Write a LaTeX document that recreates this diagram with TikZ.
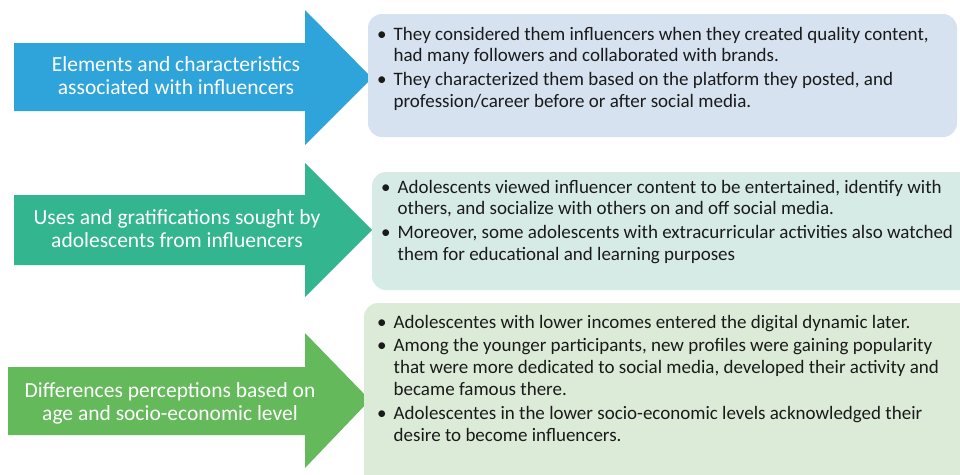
\documentclass[tikz,border=0pt]{standalone}
\usepackage{fontspec}
\setmainfont{Carlito}
\definecolor{arrA}{HTML}{2EA4DB}
\definecolor{arrB}{HTML}{33B68F}
\definecolor{arrC}{HTML}{64BA5A}
\definecolor{boxA}{HTML}{D6E2F0}
\definecolor{boxB}{HTML}{D7EBE6}
\definecolor{boxC}{HTML}{DCEBD8}
\definecolor{txt}{HTML}{1A1A1A}
\begin{document}
\begin{tikzpicture}[x=1pt,y=-1pt,
  arrowtxt/.style={anchor=north, inner sep=0pt, text=white, font=\fontsize{21.5}{23}\selectfont},
  boxtxt/.style={anchor=north west, inner sep=0pt, text=txt, font=\fontsize{19}{21.5}\selectfont},
  panel/.style={rounded corners=14pt},
]
\useasboundingbox (0,0) rectangle (960,474);
% arrows
\fill[arrA] (14,43) -- (305,43) -- (305,10) -- (372,78) -- (305,145) -- (305,111) -- (14,111) -- cycle;
\fill[arrB] (14,195) -- (305,195) -- (305,163) -- (372,230) -- (305,297) -- (305,265) -- (14,265) -- cycle;
\fill[arrC] (8,367) -- (305,367) -- (305,333) -- (370,400) -- (305,468) -- (305,435) -- (8,435) -- cycle;
% panels
\fill[boxA, panel] (368,14) rectangle (957,137);
\fill[boxB, panel] (372,172) rectangle (980,290);
\fill[boxC, panel] (364,303) rectangle (980,495);
% arrow texts
\node[arrowtxt] (a1) at (176,54.9) {\begin{tabular}{@{}c@{}}Elements and characteristics\\ associated with influencers\end{tabular}};
\node[arrowtxt] (a2) at (177,207.9) {\begin{tabular}{@{}c@{}}Uses and gratifications sought by\\ adolescents from influencers\end{tabular}};
\node[arrowtxt] (a3) at (170,380.9) {\begin{tabular}{@{}c@{}}Differences perceptions based on\\ age and socio-economic level\end{tabular}};
% panel texts
\node[boxtxt] (b1) at (377,25) {\begin{tabular}{@{}l@{\hspace{7pt}}l@{}}
\textbullet & They considered them influencers when they created quality content,\\
 & had many followers and collaborated with brands.\\[2.5pt]
\textbullet & They characterized them based on the platform they posted, and\\
 & profession/career before or after social media.
\end{tabular}};
\node[boxtxt] (b2) at (381,178) {\begin{tabular}{@{}l@{\hspace{7pt}}l@{}}
\textbullet & Adolescents viewed influencer content to be entertained, identify with\\
 & others, and socialize with others on and off social media.\\[2.5pt]
\textbullet & Moreover, some adolescents with extracurricular activities also watched\\
 & them for educational and learning purposes
\end{tabular}};
\node[boxtxt, font=\fontsize{19}{22.2}\selectfont] (b3) at (377,312.5) {\begin{tabular}{@{}l@{\hspace{7pt}}l@{}}
\textbullet & Adolescentes with lower incomes entered the digital dynamic later.\\[1pt]
\textbullet & Among the younger participants, new profiles were gaining popularity\\
 & that were more dedicated to social media, developed their activity and\\
 & became famous there.\\[1pt]
\textbullet & Adolescentes in the lower socio-economic levels acknowledged their\\
 & desire to become influencers.
\end{tabular}};
\end{tikzpicture}
\end{document}
